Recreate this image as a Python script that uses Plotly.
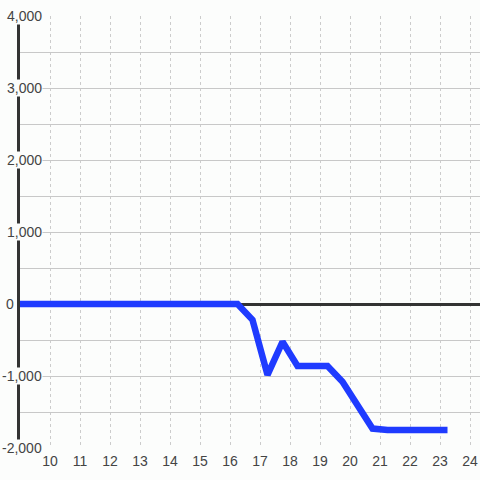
import plotly.graph_objects as go

hours = [8.75, 9.25, 9.75, 10.25, 10.75, 11.25, 11.75, 12.25, 12.75, 13.25, 13.75,
         14.25, 14.75, 15.25, 15.75, 16.25, 16.75, 17.25, 17.75, 18.25, 18.75,
         19.25, 19.75, 20.25, 20.75, 21.25, 21.75, 22.25, 22.75, 23.25]
values = [0, 0, 0, 0, 0, 0, 0, 0, 0, 0, 0,
          0, 0, 0, 0, 0, -220, -985, -525, -860, -860,
          -860, -1080, -1400, -1730, -1750, -1750, -1750, -1750, -1750]
x_ticks = list(range(10, 25))
y_label_vals = [4000, 3000, 2000, 1000, 0, -1000, -2000]
y_label_text = ["4,000", "3,000", "2,000", "1,000", "0", "-1,000", "-2,000"]

BG = "#fcfdfc"
FONT = "Liberation Sans, Arial, sans-serif"

fig = go.Figure()
fig.add_trace(go.Scatter(
    x=hours, y=values, mode="lines",
    line=dict(color="#1f3bff", width=6.5),
    hoverinfo="skip",
))

for v, t in zip(y_label_vals, y_label_text):
    fig.add_annotation(
        x=(-0.0109 if v == 0 else 0.05), xref="paper", y=v, yref="y",
        text=t, showarrow=False, xanchor="right", yanchor="middle",
        bgcolor=BG, borderpad=0,
        font=dict(family=FONT, size=14, color="#444"),
    )

fig.update_layout(
    width=480, height=480,
    margin=dict(l=20, r=0, t=16, b=32),
    paper_bgcolor=BG, plot_bgcolor=BG,
    showlegend=False,
    font=dict(family=FONT, size=14, color="#444"),
    xaxis=dict(
        range=[9, 9 + 460 / 30], tickmode="array", tickvals=x_ticks,
        showgrid=True, gridcolor="#cccccc", gridwidth=1, griddash="3px,3px",
        zeroline=False, showline=False, ticks="",
        ticklabelstandoff=3,
        tickfont=dict(family=FONT, size=14, color="#444"),
        layer="below traces",
    ),
    yaxis=dict(
        range=[-2000, 4000], tickmode="linear", tick0=0, dtick=500,
        showticklabels=False, ticks="",
        showgrid=True, gridcolor="#c8c8c8", gridwidth=1,
        zeroline=True, zerolinecolor="#333333", zerolinewidth=3,
        showline=True, linecolor="#333333", linewidth=3,
        layer="below traces",
    ),
)

fig.write_html(
    "out.html",
    config={"displayModeBar": False},
    post_script="document.body.style.margin='0';document.body.style.overflow='hidden';",
)
